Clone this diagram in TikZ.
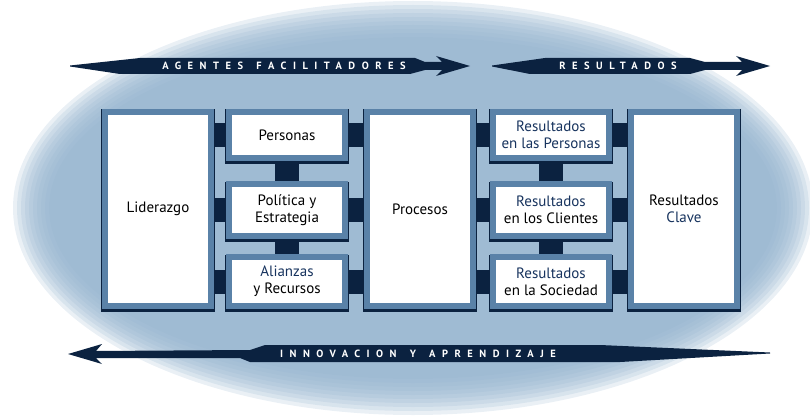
\documentclass[tikz,border=0pt]{standalone}
\usepackage{fontspec}
\setmainfont{PT Sans}
\newfontfamily\bandfont[LetterSpace=62]{PT Sans Bold}
\usepackage{tikz}
\usetikzlibrary{backgrounds, positioning}
\definecolor{navy}{HTML}{0B2240}
\definecolor{ovalblue}{HTML}{94B3CE}
\definecolor{frameblue}{HTML}{5A82A8}
\definecolor{txtblue}{HTML}{17335E}
\tikzset{
    boxnode/.style = {draw=frameblue, line width=6pt, fill=white, inner sep=0pt, align=center,
      font=\fontsize{15}{17}\selectfont,
      preaction={draw=navy, line width=8pt, transform canvas={yshift=-1.5pt}}},
    tallnode/.style = {boxnode, minimum width=106pt, minimum height=194pt},
    smallnode/.style = {boxnode, minimum width=116pt},
    link/.style = {navy, line width=24pt},
    band/.style = {fill=navy},
    bandtext/.style = {text=white, inner sep=0pt, font=\bandfont\fontsize{10.5}{11}\selectfont}
}
\newcommand{\gap}{\hspace{4pt} }

\begin{document}
\begin{tikzpicture}[x=1pt, y=-1pt]
    \useasboundingbox (0,0) rectangle (810,417);

    % boxes
    \node [tallnode, name=lid] at (158,209) {Liderazgo};
    \node [smallnode, name=per, minimum height=46pt] at (287,135) {Personas};
    \node [smallnode, name=pol, minimum height=52pt] at (287,210) {Política y\\Estrategia};
    \node [smallnode, name=ali, minimum height=49pt] at (287,281.5) {\textcolor{txtblue}{Alianzas}\\y Recursos};
    \node [tallnode, name=pro] at (420,209) {Procesos};
    \node [smallnode, name=rper, minimum height=46pt, text=txtblue] at (551,135) {Resultados\\en las Personas};
    \node [smallnode, name=rcli, minimum height=52pt] at (551,210) {\textcolor{txtblue}{Resultados}\\en los Clientes};
    \node [smallnode, name=rsoc, minimum height=49pt] at (551,281.5) {\textcolor{txtblue}{Resultados}\\en la Sociedad};
    \node [tallnode, name=clave] at (684,209) {Resultados\\\textcolor{txtblue}{Clave}};

    \begin{scope}[on background layer]
        % soft oval
        \foreach \r in {0,4,...,36}
            \fill [ovalblue, fill opacity=0.2] (413,208) ellipse [x radius={400-\r}, y radius={207-\r}];
        % links
        \foreach \n in {per,pol,ali}
            \draw [link] (lid |- \n) -- (pro |- \n);
        \foreach \n in {rper,rcli,rsoc}
            \draw [link] (pro |- \n) -- (clave |- \n);
        \draw [link] (per) -- (ali);
        \draw [link] (rper) -- (rsoc);
    \end{scope}

    % arrows
    \fill [band] (70,65.5) -- (140,58) -- (415,58) -- (425,62) -- (442,62) -- (436,56) -- (470,66)
        -- (436,76) -- (442,70) -- (425,70) -- (410,74) -- (120,74) -- (70,66.5) -- cycle;
    \node [bandtext, name=agentes] at (284,66) {AGENTES\gap FACILITADORES};

    \fill [band] (492,65.5) -- (545,58) -- (690,58) -- (705,62) -- (742,62) -- (736,56) -- (770,66)
        -- (736,76) -- (742,70) -- (705,70) -- (690,74) -- (530,74) -- (492,66.5) -- cycle;
    \node [bandtext, name=resultados] at (618,66) {RESULTADOS};

    \fill [band] (68,354) -- (102,344) -- (96,351) -- (250,350) -- (265,345) -- (600,345) -- (770,352.5)
        -- (770,353.5) -- (620,362) -- (250,362) -- (240,358) -- (96,358) -- (102,364) -- cycle;
    \node [bandtext, name=innovacion] at (418,354) {INNOVACION\gap Y\gap APRENDIZAJE};
\end{tikzpicture}
\end{document}
